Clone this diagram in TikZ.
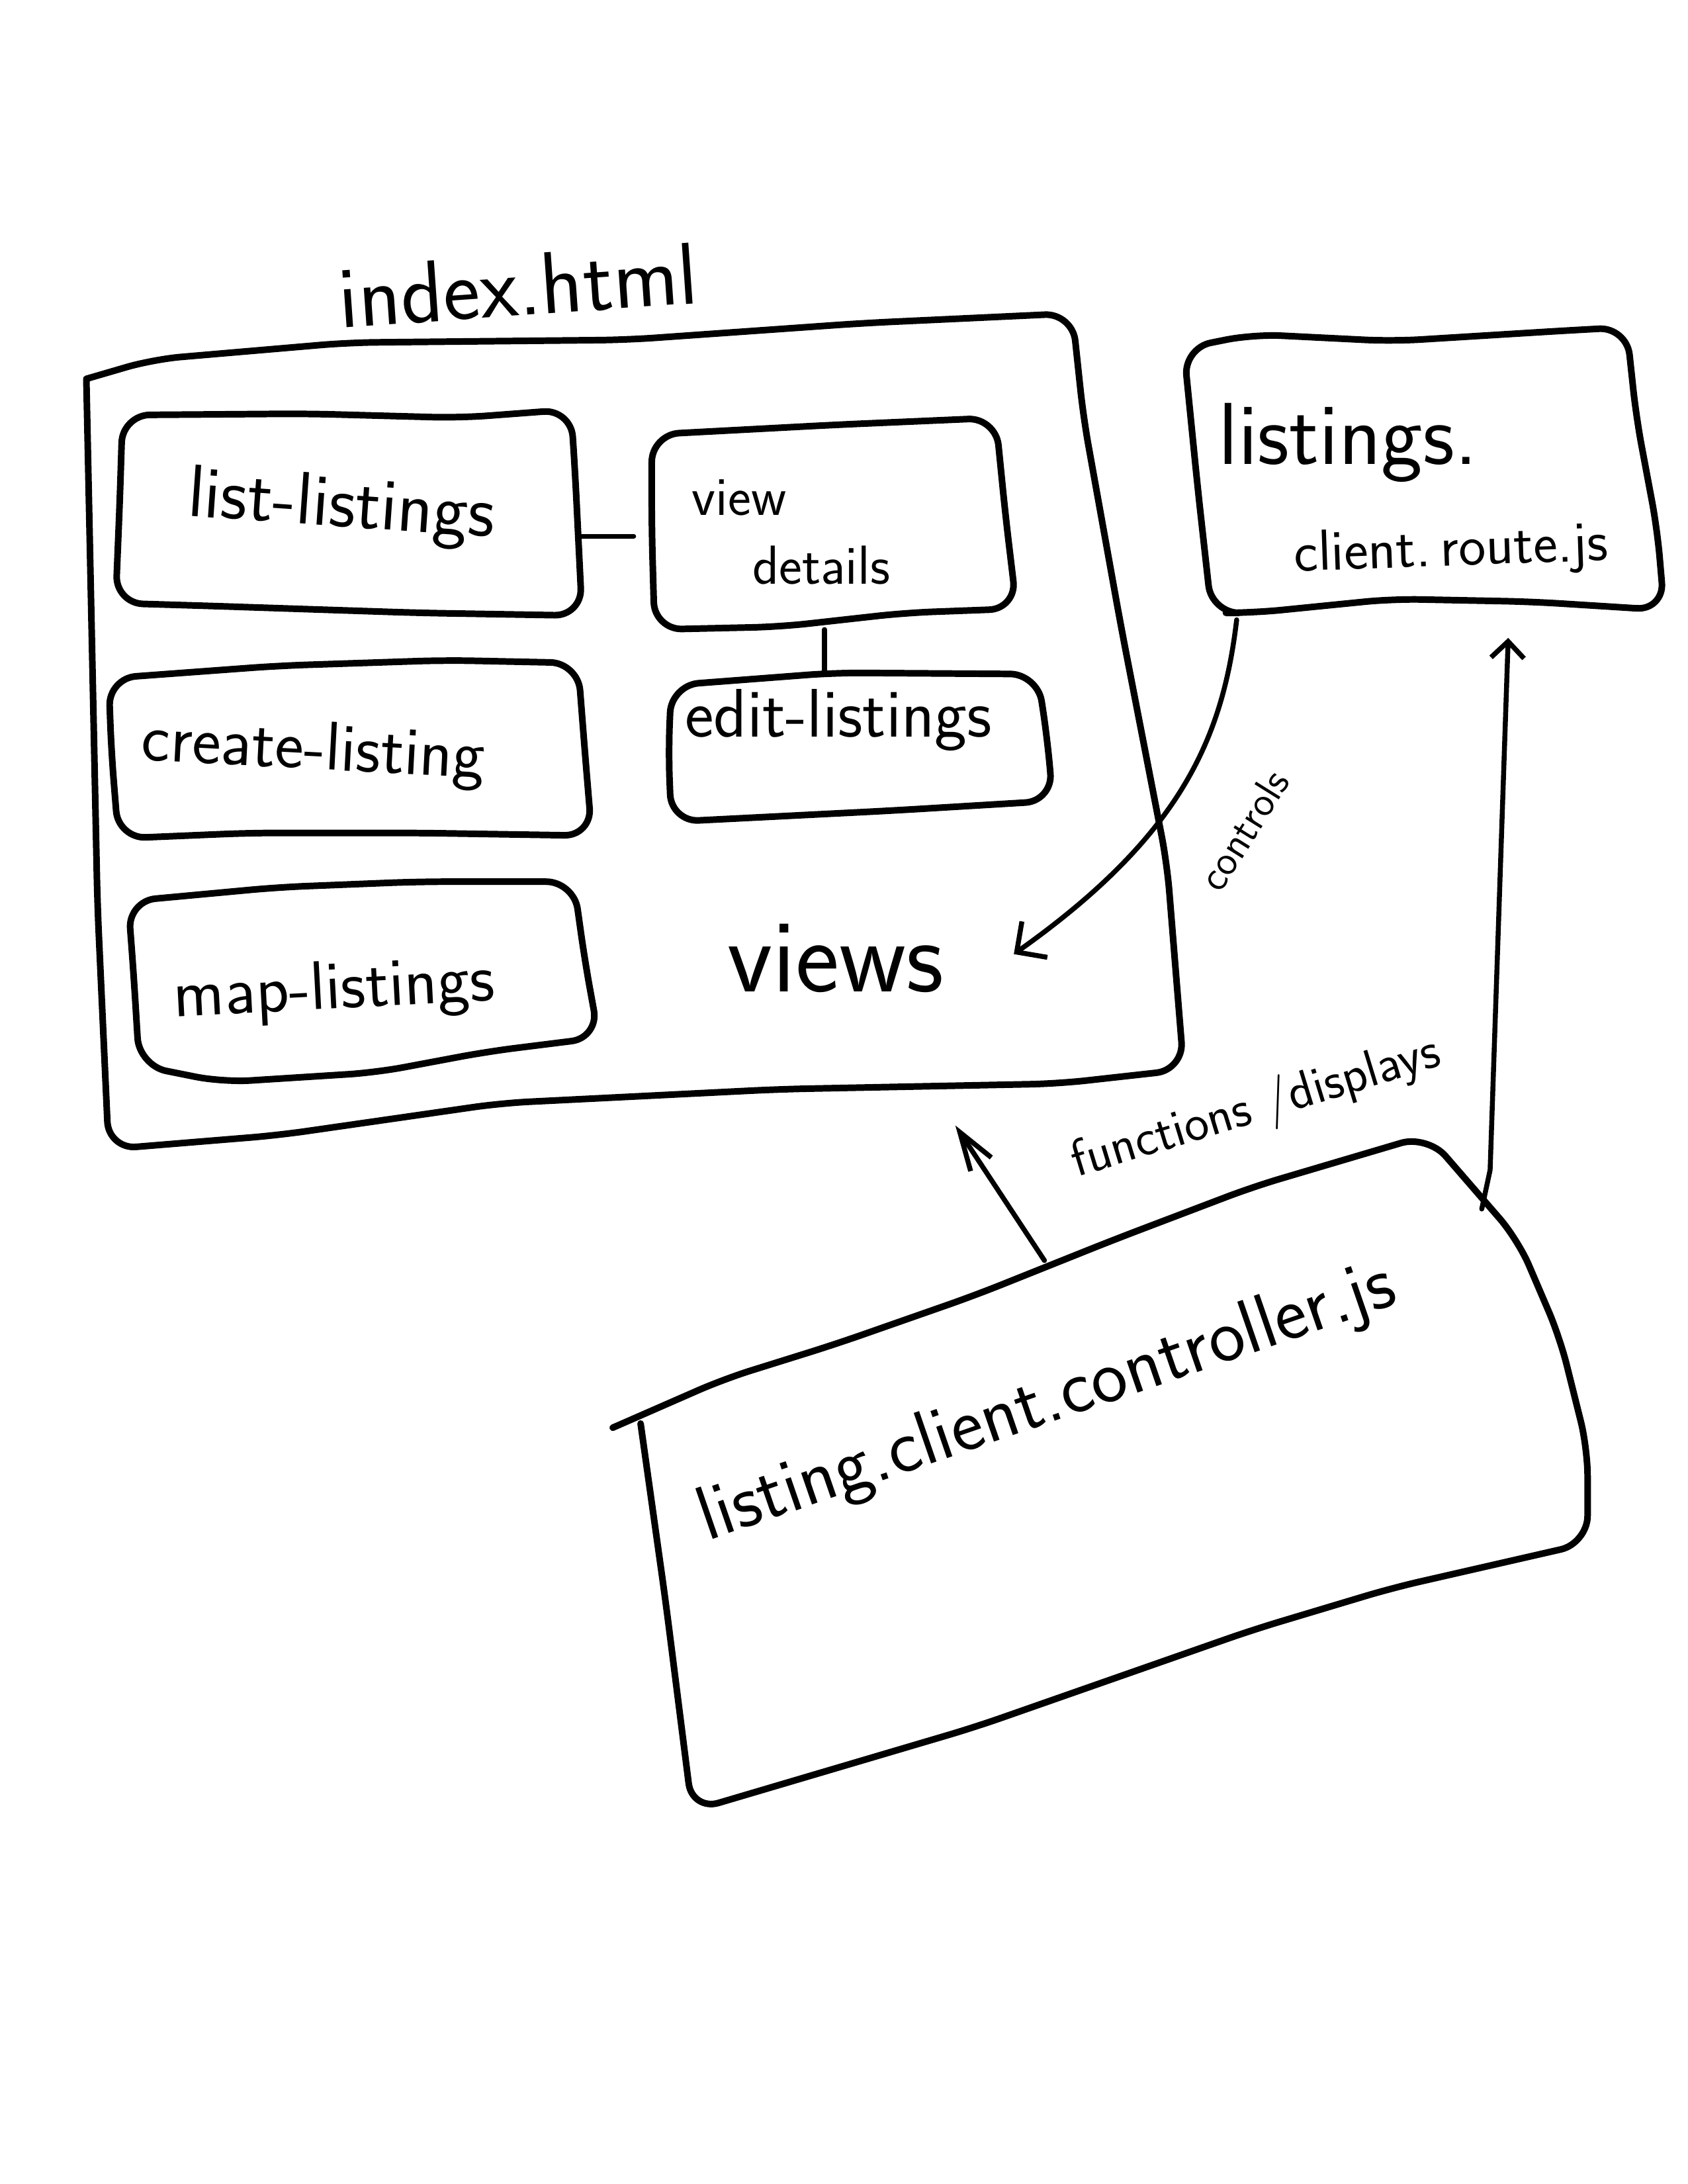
\documentclass[tikz,border=0pt]{standalone}
\usepackage{tikz}
\usetikzlibrary{arrows.meta,positioning}

\begin{document}
\begin{tikzpicture}[x=0.01781cm,y=-0.01781cm,
        sketch/.style={line width=2.4pt, line join=round, line cap=round, rounded corners=10pt},
        wire/.style={line width=1.8pt, line cap=round},
        hand/.style={font=\sffamily, inner sep=0pt, anchor=center},
        tip/.style={-{Straight Barb[length=8pt,width=16pt,line width=1.8pt]}}]
    \useasboundingbox (0,0) rectangle (1212,1568);

    % index.html
    \draw[sketch] (62,272) -- (110,258) -- (250,246) -- (450,244) -- (620,232) -- (770,225)
        -- (778,300) -- (805,450) -- (838,620) -- (850,768) -- (760,778) -- (560,782)
        -- (360,792) -- (200,815) -- (78,825) -- (70,650) -- (62,272);
    \node[hand, font=\sffamily\fontsize{32}{36}\selectfont, rotate=4] (index) at (372,205) {index.html};

    % views
    \draw[sketch] (88,298) -- (220,297) -- (330,300) -- (410,294) -- (413,340) -- (418,442)
        -- (300,440) -- (150,435) -- (83,433) -- (86,360) -- cycle;
    \node[hand, font=\sffamily\fontsize{27}{30}\selectfont, rotate=-4] (list) at (245,365) {list-listings};

    \draw[sketch] (468,312) -- (600,305) -- (715,300) -- (722,370) -- (730,437)
        -- (650,440) -- (560,450) -- (470,452) -- (468,380) -- cycle;
    \node[hand, font=\sffamily\fontsize{20}{25}\selectfont, align=left] (view) at (568,382) {view\\\hspace{1.1em}details};

    \draw[sketch] (78,487) -- (200,478) -- (320,474) -- (415,476) -- (420,540) -- (425,600)
        -- (300,598) -- (180,598) -- (85,602) -- (80,540) -- cycle;
    \node[hand, font=\sffamily\fontsize{25}{28}\selectfont, rotate=-3] (create) at (225,540) {create-listing};

    \draw[sketch] (482,492) -- (600,483) -- (745,484) -- (752,530) -- (756,575)
        -- (640,582) -- (482,590) -- (480,540) -- cycle;
    \node[hand, font=\sffamily\fontsize{25}{28}\selectfont] (edit) at (602,517) {edit-listings};

    \draw[sketch] (92,647) -- (200,637) -- (300,633) -- (412,633) -- (420,690) -- (430,745)
        -- (350,755) -- (270,770) -- (160,777) -- (100,765) -- (96,700) -- cycle;
    \node[hand, font=\sffamily\fontsize{25}{28}\selectfont, rotate=3] (map) at (240,712) {map-listings};

    \node[hand, font=\sffamily\fontsize{38}{42}\selectfont] (views) at (600,688) {views};

    \coordinate (list-e) at (418,385);
    \coordinate (view-w) at (455,385);
    \coordinate (view-s) at (592,452);
    \coordinate (edit-n) at (592,482);
    \draw[wire] (list-e) -- (view-w);
    \draw[wire] (view-s) -- (edit-n);

    % listings.client.route.js
    \draw[sketch] (850,250) -- (900,240) -- (1000,245) -- (1130,237) -- (1168,235) -- (1175,300)
        -- (1190,380) -- (1195,438) -- (1100,432) -- (1000,430) -- (900,440) -- (870,440)
        -- (860,350) -- cycle;
    \node[hand, font=\sffamily\fontsize{32}{36}\selectfont] (route) at (968,318) {listings.};
    \node[hand, font=\sffamily\fontsize{21}{24}\selectfont, rotate=2] (routejs) at (1042,396) {client.\,route.js};

    % listing.client.controller.js
    \draw[sketch] (440,1025) -- (520,990) -- (600,965) -- (700,930) -- (800,890) -- (900,852)
        -- (1025,815) -- (1090,890) -- (1120,960) -- (1140,1040) -- (1140,1108) -- (1000,1140)
        -- (900,1170) -- (700,1240) -- (497,1300) -- (478,1150) -- (460,1022);
    \node[hand, font=\sffamily\fontsize{28}{32}\selectfont, rotate=19] (ctrl) at (752,1008) {listing.client.controller.js};

    % connectors
    \coordinate (route-s) at (888,445);
    \coordinate (views-e) at (728,685);
    \coordinate (ctrl-n) at (750,905);
    \coordinate (index-s) at (686,808);
    \coordinate (ctrl-e) at (1064,868);
    \coordinate (route-b) at (1083,458);

    \draw[wire, tip] (route-s) .. controls (878,530) and (848,600) .. (views-e);
    \node[hand, font=\sffamily\fontsize{15}{18}\selectfont, rotate=58] (controls) at (893,596) {controls};

    \draw[wire, -{Straight Barb[length=14pt,width=9pt,line width=1.8pt]}] (ctrl-n) -- (index-s);
    \node[hand, font=\sffamily\fontsize{19}{22}\selectfont, rotate=17] (funcs) at (902,796) {functions /displays};

    \draw[wire, -{Straight Barb[length=6pt,width=12pt,line width=1.8pt]}] (ctrl-e) -- (1070,840) -- (route-b);
\end{tikzpicture}
\end{document}
